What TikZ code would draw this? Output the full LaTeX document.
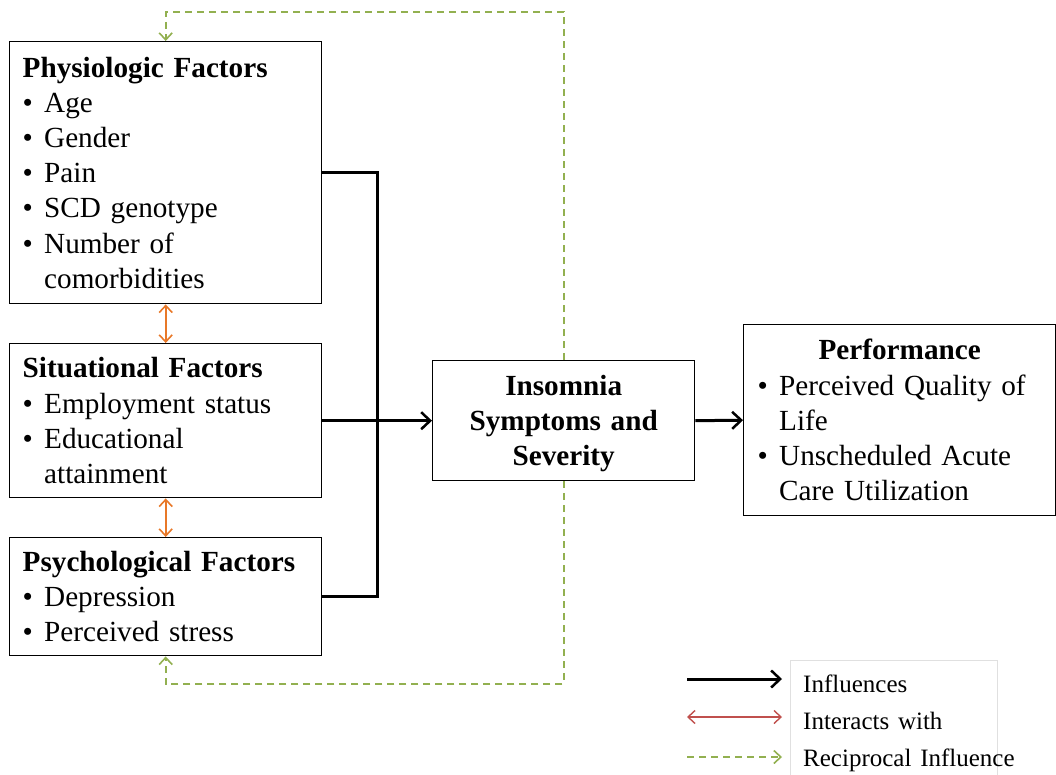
\documentclass[tikz,border=0pt]{standalone}
\usepackage{fontspec}
\setmainfont{Liberation Serif}
\usetikzlibrary{arrows.meta}
\definecolor{recgreen}{RGB}{146,176,80}
\definecolor{intorange}{RGB}{232,120,40}
\definecolor{legred}{RGB}{192,80,77}
\newcommand{\bul}{\makebox[21.5pt][l]{\textbullet}}
\newcommand{\ind}{\hspace*{21.5pt}}
\begin{document}
\begin{tikzpicture}[x=1pt,y=-1pt,
  box/.style={draw=black, line width=1.4pt, rectangle, inner xsep=13pt, inner ysep=0pt,
    align=left, font=\fontsize{29.2}{35.2}\selectfont, anchor=north west},
  infl/.style={line width=3pt, -{Straight Barb[length=9pt,width=17pt,line width=2.5pt]}},
  inflline/.style={line width=3pt},
  recip/.style={draw=recgreen, line width=1.8pt, dash pattern=on 7pt off 5pt,
    -{Straight Barb[length=7pt,width=13pt,line width=1.6pt]}},
  inter/.style={draw=intorange, line width=1.8pt,
    {Straight Barb[length=7pt,width=13pt,line width=1.6pt]}-{Straight Barb[length=7pt,width=13pt,line width=1.6pt]}},
  legtext/.style={anchor=west, font=\fontsize{25}{30}\selectfont, inner sep=0pt}
]
\useasboundingbox (0,0) rectangle (1056,775);

% boxes
\node[box, text width=286pt, minimum width=312pt, minimum height=262pt] (phys) at (9,41)
 {\textbf{Physiologic Factors}\\
  \bul Age\\
  \bul Gender\\
  \bul Pain\\
  \bul SCD genotype\\
  \bul Number of\\
  \ind comorbidities};
\node[box, text width=286pt, minimum width=312pt, minimum height=154pt] (sit) at (9,343)
 {\textbf{Situational Factors}\\
  \bul Employment status\\
  \bul Educational\\
  \ind attainment};
\node[box, text width=286pt, minimum width=312pt, minimum height=118pt] (psych) at (9,537)
 {\textbf{Psychological Factors}\\
  \bul Depression\\
  \bul Perceived stress};
\node[box, align=center, text width=236pt, minimum width=262pt, minimum height=120pt] (ins) at (432,360)
 {\rule{0pt}{26pt}\textbf{Insomnia}\\ \textbf{Symptoms and}\\ \textbf{Severity}};
\node[box, inner xsep=14pt, text width=284pt, minimum width=312pt, minimum height=191pt] (perf) at (743,324)
 {\makebox[284pt][c]{\textbf{Performance}}\\
  \bul Perceived Quality of\\
  \ind Life\\
  \bul Unscheduled Acute\\
  \ind Care Utilization};

% influences
\coordinate (j) at (377,420);
\draw[inflline] (phys.east) -- (phys.east -| j) -- (psych.east -| j) -- (psych.east);
\draw[inflline] (sit.east) -- (sit.east -| j);
\draw[infl] (sit.east -| j) -- (ins.west);
\draw[infl] (ins.east) -- (perf.west);

% interactions
\draw[inter] (phys.south) -- (sit.north);
\draw[inter] (sit.south) -- (psych.north);

% reciprocal
\coordinate (topc) at (0,12);
\coordinate (botc) at (0,684);
\draw[recip] (ins.north) -- (ins.north |- topc) -| (phys.north);
\draw[recip] (ins.south) -- (ins.south |- botc) -| (psych.south);

% legend
\draw[draw=black!12, line width=0.8pt] (790,660) rectangle (997,775);
\coordinate (la1) at (687,679);
\coordinate (lb1) at (782,679);
\coordinate (la2) at (687,717);
\coordinate (lb2) at (782,717);
\coordinate (la3) at (687,757);
\coordinate (lb3) at (782,757);
\draw[infl] (la1) -- (lb1);
\draw[draw=legred, line width=1.6pt,
  {Straight Barb[length=7pt,width=13pt,line width=1.4pt]}-{Straight Barb[length=7pt,width=13pt,line width=1.4pt]}] (la2) -- (lb2);
\draw[recip] (la3) -- (lb3);
\node[legtext] (t1) at (803,684) {Influences};
\node[legtext] (t2) at (803,721) {Interacts\hspace{0.35em}with};
\node[legtext] (t3) at (803,760) {Reciprocal\hspace{0.35em}Influence};
\end{tikzpicture}
\end{document}
